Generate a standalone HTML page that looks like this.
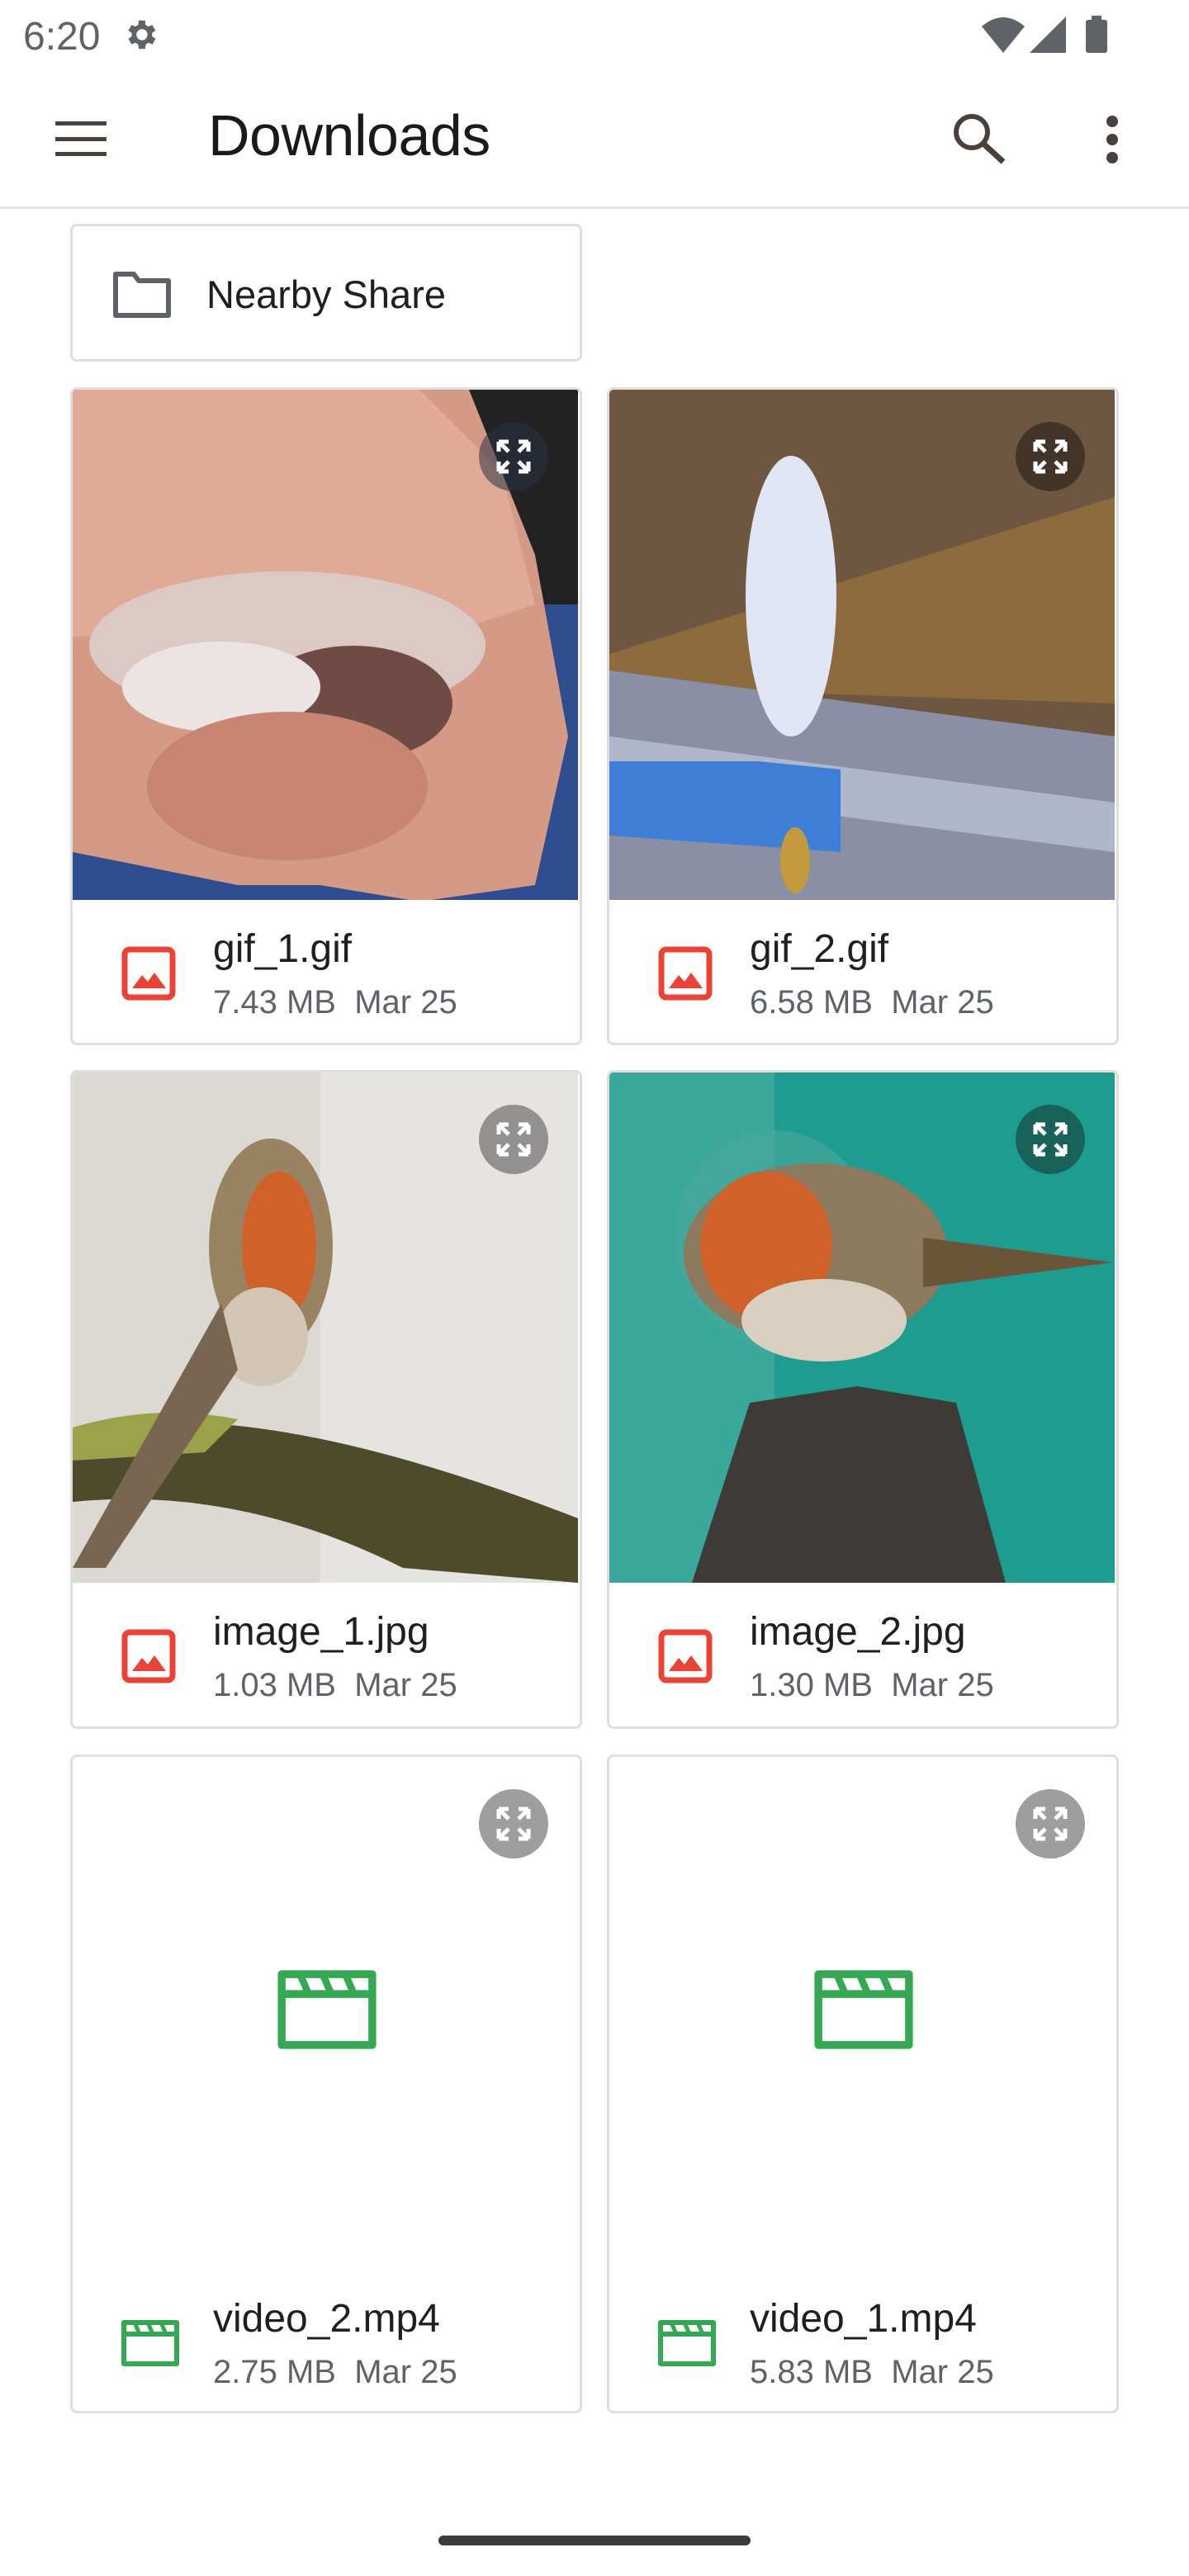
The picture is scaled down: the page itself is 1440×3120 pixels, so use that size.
<!DOCTYPE html>
<html><head><meta charset="utf-8">
<style>
*{margin:0;padding:0;box-sizing:border-box}
body{width:1440px;height:3120px;background:#fff;position:relative;overflow:hidden;font-family:"Liberation Sans",sans-serif}
.abs{position:absolute}
.card{position:absolute;border:3px solid #dedede;border-radius:8px;background:#fff;overflow:hidden}
.img{position:absolute;left:0;top:0;width:612px;height:618px}
.title{position:absolute;left:170px;font-size:48px;color:#1f1f1f;white-space:nowrap}
.sub{position:absolute;left:170px;font-size:40px;color:#5f6368;white-space:nowrap}
.exp{position:absolute;left:492px;top:39px;width:84px;height:84px;border-radius:50%}
</style></head><body>
<div class="abs" style="left:0;top:0;width:1440px;height:84px">
 <div class="abs" style="left:28px;top:17px;font-size:48px;color:#5f6368">6:20</div>
 <svg class="abs" style="left:146px;top:19px" width="48" height="46" viewBox="0 0 24 24"><path fill="#5f6368" d="M19.4 13a7.5 7.5 0 0 0 0-2l2.1-1.6-2-3.5-2.5 1a7 7 0 0 0-1.700-1L15 3h-4l-.4 2.9a7 7 0 0 0-1.7 1l-2.5-1-2 3.5L6.6 11a7.5 7.5 0 0 0 0 2l-2.2 1.6 2 3.5 2.5-1a7 7 0 0 0 1.7 1L11 21h4l.4-2.9a7 7 0 0 0 1.7-1l2.5 1 2-3.5zM13 15.5a3.5 3.5 0 1 1 0-7 3.5 3.5 0 0 1 0 7z"/></svg>
 <svg class="abs" style="left:1189px;top:20px" width="52" height="44" viewBox="0 0 52 44"><path fill="#5f6368" d="M0 12Q26-10 52 12L26 44z"/></svg>
 <svg class="abs" style="left:1247px;top:20px" width="44" height="44" viewBox="0 0 44 44"><path fill="#5f6368" d="M44 0V44H0z"/></svg>
 <div class="abs" style="left:1315px;top:24px;width:26px;height:40px;background:#5f6368;border-radius:3px"></div>
 <div class="abs" style="left:1322px;top:19px;width:12px;height:6px;background:#5f6368"></div>
</div>
<div class="abs" style="left:0;top:84px;width:1440px;height:169px;border-bottom:3px solid #e6e6e6">
 <div class="abs" style="left:67px;top:63px;width:62px;height:42px">
  <div class="abs" style="left:0;top:0;width:62px;height:5px;background:#4a3f3d"></div>
  <div class="abs" style="left:0;top:19px;width:62px;height:5px;background:#4a3f3d"></div>
  <div class="abs" style="left:0;top:37px;width:62px;height:5px;background:#4a3f3d"></div>
 </div>
 <div class="abs" style="left:252px;top:40px;font-size:70px;color:#1a1a1a;letter-spacing:-0.5px">Downloads</div>
 <svg class="abs" style="left:1153px;top:52px" width="68" height="64" viewBox="0 0 68 64"><circle cx="24" cy="24" r="19" fill="none" stroke="#4a3f3d" stroke-width="6"/><path d="M38 38L62 60" stroke="#4a3f3d" stroke-width="7"/></svg>
 <div class="abs" style="left:1340px;top:56px;width:16px;height:60px">
  <div class="abs" style="left:0;top:0;width:14px;height:14px;border-radius:50%;background:#4a3f3d"></div>
  <div class="abs" style="left:0;top:22px;width:14px;height:14px;border-radius:50%;background:#4a3f3d"></div>
  <div class="abs" style="left:0;top:44px;width:14px;height:14px;border-radius:50%;background:#4a3f3d"></div>
 </div>
</div>
<div class="card" style="left:85px;top:271px;width:620px;height:167px">
 <svg class="abs" style="left:48px;top:54px" width="72" height="58" viewBox="0 0 72 58"><path d="M4 4h22l6 8h36v42H4z" fill="none" stroke="#5f6368" stroke-width="6" stroke-linejoin="round"/></svg>
 <div class="abs" style="left:162px;top:55px;font-size:47px;color:#1f1f1f">Nearby Share</div>
</div>

<!-- row 1 -->
<div class="card" style="left:85px;top:469px;width:620px;height:797px">
 <svg class="img" viewBox="0 0 612 618" preserveAspectRatio="none">
  <rect width="612" height="618" fill="#2e4d8e"/>
  <rect x="470" y="0" width="142" height="260" fill="#222"/>
  <path d="M0 0H480L560 200 600 420 560 600 420 620 300 600 200 600 0 560z" fill="#d59a86"/>
  <path d="M0 0H420L520 100 560 260 440 300 220 280 0 300z" fill="#e0aa96"/>
  <ellipse cx="260" cy="310" rx="240" ry="90" fill="#dcc9c6"/>
  <ellipse cx="340" cy="380" rx="120" ry="70" fill="#6e4b45"/>
  <ellipse cx="180" cy="360" rx="120" ry="55" fill="#ece4e3"/>
  <ellipse cx="260" cy="480" rx="170" ry="90" fill="#c98574"/>
 </svg>
 <div class="exp" style="background:rgba(40,50,70,0.55)"><svg width="84" height="84" viewBox="0 0 84 84"><path d="M24 24h12M24 24v12M24 24l12 12M60 24h-12M60 24v12M60 24L48 36M24 60h12M24 60v-12M24 60l12-12M60 60h-12M60 60v-12M60 60L48 48" stroke="#fff" stroke-width="5" fill="none"/></svg></div>
 <svg class="abs" style="left:59px;top:674px" width="66" height="66" viewBox="0 0 66 66"><rect x="4" y="4" width="58" height="58" rx="6" fill="none" stroke="#ea4335" stroke-width="7"/><path d="M13 51L25 35 32 43 40 32 54 51z" fill="#ea4335"/></svg>
 <div class="title" style="top:650px">gif_1.gif</div>
 <div class="sub" style="top:720px">7.43 MB&nbsp; Mar 25</div>
</div>
<div class="card" style="left:735px;top:469px;width:620px;height:797px">
 <svg class="img" viewBox="0 0 612 618" preserveAspectRatio="none">
  <rect width="612" height="618" fill="#6f5640"/>
  <path d="M0 320L612 130V380L0 360z" fill="#8d6b3e"/>
  <path d="M0 340L612 420V618H0z" fill="#8a8fa5"/>
  <path d="M0 420L612 500V560L0 480z" fill="#b0b6cc"/>
  <path d="M0 450H180L280 460 280 560 0 540z" fill="#3e7ed6"/>
  <ellipse cx="220" cy="250" rx="55" ry="170" fill="#e0e6f5"/>
  <ellipse cx="225" cy="570" rx="18" ry="40" fill="#c59a3c"/>
 </svg>
 <div class="exp" style="background:rgba(40,30,25,0.6)"><svg width="84" height="84" viewBox="0 0 84 84"><path d="M24 24h12M24 24v12M24 24l12 12M60 24h-12M60 24v12M60 24L48 36M24 60h12M24 60v-12M24 60l12-12M60 60h-12M60 60v-12M60 60L48 48" stroke="#fff" stroke-width="5" fill="none"/></svg></div>
 <svg class="abs" style="left:59px;top:674px" width="66" height="66" viewBox="0 0 66 66"><rect x="4" y="4" width="58" height="58" rx="6" fill="none" stroke="#ea4335" stroke-width="7"/><path d="M13 51L25 35 32 43 40 32 54 51z" fill="#ea4335"/></svg>
 <div class="title" style="top:650px">gif_2.gif</div>
 <div class="sub" style="top:720px">6.58 MB&nbsp; Mar 25</div>
</div>

<!-- row 2 -->
<div class="card" style="left:85px;top:1296px;width:620px;height:798px">
 <svg class="img" viewBox="0 0 612 618" preserveAspectRatio="none">
  <rect width="612" height="618" fill="#dcd8d3"/>
  <rect x="300" width="312" height="618" fill="#e6e4e1"/>
  <path d="M0 440Q200 380 612 540V618L400 600Q200 500 0 520z" fill="#4e4a2c"/>
  <path d="M0 430Q100 400 200 420 L160 460 0 470z" fill="#9aa34a"/>
  <ellipse cx="240" cy="210" rx="75" ry="130" fill="#9a8363"/>
  <ellipse cx="250" cy="210" rx="45" ry="90" fill="#d1612a"/>
  <ellipse cx="230" cy="320" rx="55" ry="60" fill="#d2c6b4"/>
  <path d="M180 280L0 600 40 600 200 360z" fill="#7a6650"/>
 </svg>
 <div class="exp" style="background:rgba(90,90,90,0.6)"><svg width="84" height="84" viewBox="0 0 84 84"><path d="M24 24h12M24 24v12M24 24l12 12M60 24h-12M60 24v12M60 24L48 36M24 60h12M24 60v-12M24 60l12-12M60 60h-12M60 60v-12M60 60L48 48" stroke="#fff" stroke-width="5" fill="none"/></svg></div>
 <svg class="abs" style="left:59px;top:674px" width="66" height="66" viewBox="0 0 66 66"><rect x="4" y="4" width="58" height="58" rx="6" fill="none" stroke="#ea4335" stroke-width="7"/><path d="M13 51L25 35 32 43 40 32 54 51z" fill="#ea4335"/></svg>
 <div class="title" style="top:650px">image_1.jpg</div>
 <div class="sub" style="top:720px">1.03 MB&nbsp; Mar 25</div>
</div>
<div class="card" style="left:735px;top:1296px;width:620px;height:798px">
 <svg class="img" viewBox="0 0 612 618" preserveAspectRatio="none">
  <rect width="612" height="618" fill="#1f9c90"/>
  <rect x="0" y="0" width="200" height="618" fill="#3aa89a"/>
  <ellipse cx="200" cy="200" rx="120" ry="130" fill="#4aa89c" opacity="0.6"/>
  <path d="M100 618L170 400 300 380 420 400 480 618z" fill="#3d3a38"/>
  <ellipse cx="250" cy="220" rx="160" ry="110" fill="#8d7a5e"/>
  <ellipse cx="190" cy="210" rx="80" ry="90" fill="#d1612a"/>
  <ellipse cx="260" cy="300" rx="100" ry="50" fill="#d9cfc0"/>
  <path d="M380 200L610 230 380 260z" fill="#6b5438"/>
 </svg>
 <div class="exp" style="background:rgba(20,60,55,0.6)"><svg width="84" height="84" viewBox="0 0 84 84"><path d="M24 24h12M24 24v12M24 24l12 12M60 24h-12M60 24v12M60 24L48 36M24 60h12M24 60v-12M24 60l12-12M60 60h-12M60 60v-12M60 60L48 48" stroke="#fff" stroke-width="5" fill="none"/></svg></div>
 <svg class="abs" style="left:59px;top:674px" width="66" height="66" viewBox="0 0 66 66"><rect x="4" y="4" width="58" height="58" rx="6" fill="none" stroke="#ea4335" stroke-width="7"/><path d="M13 51L25 35 32 43 40 32 54 51z" fill="#ea4335"/></svg>
 <div class="title" style="top:650px">image_2.jpg</div>
 <div class="sub" style="top:720px">1.30 MB&nbsp; Mar 25</div>
</div>

<!-- row 3 -->
<div class="card" style="left:85px;top:2125px;width:620px;height:798px">
 <div class="exp" style="background:#9e9e9e"><svg width="84" height="84" viewBox="0 0 84 84"><path d="M24 24h12M24 24v12M24 24l12 12M60 24h-12M60 24v12M60 24L48 36M24 60h12M24 60v-12M24 60l12-12M60 60h-12M60 60v-12M60 60L48 48" stroke="#fff" stroke-width="5" fill="none"/></svg></div>
 <svg class="abs" style="left:248px;top:258px" width="120" height="96" viewBox="0 0 70 56"><path d="M3 3H67V53H3z M3 17H67" fill="none" stroke="#34a853" stroke-width="5.5" stroke-linejoin="round"/><path d="M16 3L22 17M32 3L38 17M48 3L54 17" stroke="#34a853" stroke-width="5"/></svg>
 <svg class="abs" style="left:59px;top:682px" width="70" height="56" viewBox="0 0 70 56"><path d="M3 3H67V53H3z M3 17H67" fill="none" stroke="#34a853" stroke-width="6" stroke-linejoin="round"/><path d="M16 3L22 17M32 3L38 17M48 3L54 17" stroke="#34a853" stroke-width="5"/></svg>
 <div class="title" style="top:653px">video_2.mp4</div>
 <div class="sub" style="top:723px">2.75 MB&nbsp; Mar 25</div>
</div>
<div class="card" style="left:735px;top:2125px;width:620px;height:798px">
 <div class="exp" style="background:#9e9e9e"><svg width="84" height="84" viewBox="0 0 84 84"><path d="M24 24h12M24 24v12M24 24l12 12M60 24h-12M60 24v12M60 24L48 36M24 60h12M24 60v-12M24 60l12-12M60 60h-12M60 60v-12M60 60L48 48" stroke="#fff" stroke-width="5" fill="none"/></svg></div>
 <svg class="abs" style="left:248px;top:258px" width="120" height="96" viewBox="0 0 70 56"><path d="M3 3H67V53H3z M3 17H67" fill="none" stroke="#34a853" stroke-width="5.5" stroke-linejoin="round"/><path d="M16 3L22 17M32 3L38 17M48 3L54 17" stroke="#34a853" stroke-width="5"/></svg>
 <svg class="abs" style="left:59px;top:682px" width="70" height="56" viewBox="0 0 70 56"><path d="M3 3H67V53H3z M3 17H67" fill="none" stroke="#34a853" stroke-width="6" stroke-linejoin="round"/><path d="M16 3L22 17M32 3L38 17M48 3L54 17" stroke="#34a853" stroke-width="5"/></svg>
 <div class="title" style="top:653px">video_1.mp4</div>
 <div class="sub" style="top:723px">5.83 MB&nbsp; Mar 25</div>
</div>

<div class="abs" style="left:531px;top:3071px;width:378px;height:12px;border-radius:6px;background:#3c3c3c"></div>
</body></html>
